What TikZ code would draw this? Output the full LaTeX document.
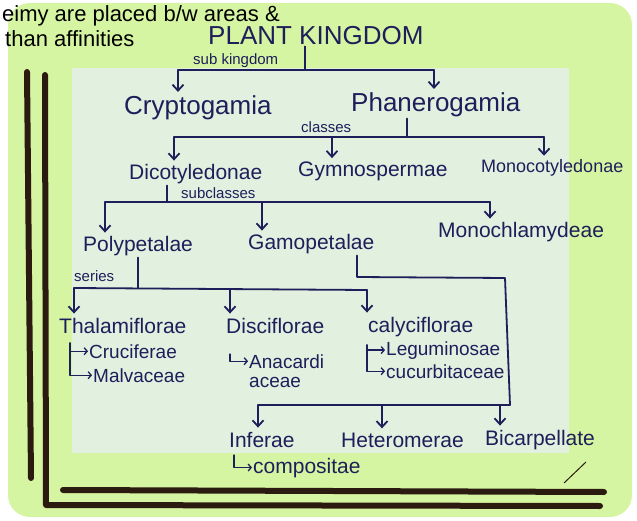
\documentclass[tikz,border=0pt]{standalone}
\usepackage{fontspec}
\setmainfont{Liberation Sans}
\usetikzlibrary{arrows.meta, positioning}
\definecolor{ink}{HTML}{1E1E5A}
\definecolor{paper}{HTML}{D6F5A2}
\definecolor{pale}{HTML}{E1F0DF}
\definecolor{marker}{HTML}{2A1A10}
\begin{document}
\begin{tikzpicture}[x=1pt,y=-1pt]

\tikzset{big/.style = {font=\fontsize{26}{28}\selectfont, text=ink, inner sep=1pt, anchor=base west}}
\tikzset{mid/.style = {font=\fontsize{21}{23}\selectfont, text=ink, inner sep=1pt, anchor=base west}}
\tikzset{small/.style = {font=\fontsize{19}{21}\selectfont, text=ink, inner sep=1pt, anchor=base west}}
\tikzset{tag/.style = {font=\fontsize{15}{16}\selectfont, text=ink, inner sep=1pt, anchor=base west}}
\tikzset{scrawl/.style = {font=\fontsize{22}{24}\selectfont, text=black, inner sep=0pt, anchor=base west}}
\tikzset{link/.style = {draw=ink, line width=1.8pt, line cap=round, line join=round}}
\tikzset{tip/.style = {-{Straight Barb[length=6pt,width=11pt]}, shorten >=3pt}}
\tikzset{sub/.style = {link, line width=1.3pt, -{Straight Barb[length=3pt,width=7pt]}}}
\tikzset{pen/.style = {draw=marker, line width=6pt, line cap=round, line join=round}}

% page
\useasboundingbox (0,0) rectangle (637,521);
\clip (0,0) rectangle (637,521);
\fill[white] (0,0) rectangle (637,521);
\fill[paper, rounded corners=22pt] (8,3) rectangle (632,517);
\fill[pale] (72,68) rectangle (569,453);
\draw[pen] (27,72) -- (31,478);
\draw[pen] (45,75) -- (46,505) -- (600,506);
\draw[pen] (63,490) -- (604,492);
\draw[marker, line width=1pt] (564,483) -- (586,462);
\node[scrawl] (note1) at (2,22) {eimy are placed b/w areas \&};
\node[scrawl] (note2) at (5,47) {than affinities};

% vertices
\node[big] (title) at (207,45) {PLANT KINGDOM};
\node[big] (crypt) at (123,115) {Cryptogamia};
\node[big] (phan) at (350,112) {Phanerogamia};
\node[mid] (dicot) at (128,180) {Dicotyledonae};
\node[mid] (gymno) at (297,177) {Gymnospermae};
\node[mid, font=\fontsize{18}{20}\selectfont] (mono) at (480,173) {Monocotyledonae};
\node[mid] (poly) at (82,252) {Polypetalae};
\node[mid] (gamo) at (247,250) {Gamopetalae};
\node[mid] (monoch) at (437,238) {Monochlamydeae};
\node[mid] (thal) at (58,333) {Thalamiflorae};
\node[mid] (disc) at (225,333) {Disciflorae};
\node[mid] (caly) at (367,332) {calyciflorae};
\node[small] (cruc) at (88,358) {Cruciferae};
\node[small] (malv) at (92,382) {Malvaceae};
\node[small] (anac) at (248,368) {Anacardi};
\node[small] (anac2) at (248,387) {aceae};
\node[small] (legu) at (385,355) {Leguminosae};
\node[small] (cucu) at (385,378) {cucurbitaceae};
\node[mid] (infer) at (228,447) {Inferae};
\node[mid] (comp) at (252,473) {compositae};
\node[mid] (hetero) at (340,447) {Heteromerae};
\node[mid] (bicarp) at (484,445) {Bicarpellate};

% labels
\node[tag] (skl) at (192,65) {sub kingdom};
\node[tag] (cls) at (300,133) {classes};
\node[tag] (scl) at (180,199) {subclasses};
\node[tag] (ser) at (73,282) {series};

% bracket points
\coordinate (k1) at (305,70);
\coordinate (kl) at (178,70);
\coordinate (kr) at (434,70);
\coordinate (c1) at (407,137);
\coordinate (cl) at (174,137);
\coordinate (cr) at (544,137);
\coordinate (s1) at (167,202);
\coordinate (sl) at (105,202);
\coordinate (sr) at (490,202);
\coordinate (r1) at (138,288);
\coordinate (rl) at (74,288);
\coordinate (rr) at (367,290);
\coordinate (g1) at (357,277);
\coordinate (g2) at (505,278);
\coordinate (g3) at (510,405);
\coordinate (gl) at (258,405);
\coordinate (t1) at (70,343);
\coordinate (t2) at (230,354);
\coordinate (t3) at (367,345);
\coordinate (t4) at (234,455);

%edges
\draw[link] (title.south -| k1) -- (k1);
\draw[link] (kl) -- (kr);
\draw[link, tip] (kl) -- (crypt.north -| kl);
\draw[link, tip] (kr) -- (phan.north -| kr);

\draw[link] (phan.south -| c1) -- (c1);
\draw[link] (cl) -- (cr);
\draw[link, tip] (cl) -- (dicot.north -| cl);
\draw[link, tip] (332,137) -- (gymno.north -| 332,0);
\draw[link, tip] (cr) -- (mono.north -| cr);

\draw[link] (dicot.south -| s1) -- (s1);
\draw[link] (sl) -- (sr);
\draw[link, tip] (sl) -- (poly.north -| sl);
\draw[link, tip] (262,202) -- (gamo.north -| 262,0);
\draw[link, tip] (sr) -- (monoch.north -| sr);

\draw[link] (poly.south -| r1) -- (r1);
\draw[link] (rl) -- (rr);
\draw[link, tip] (rl) -- (thal.north -| rl);
\draw[link, tip] (230,289) -- (disc.north -| 230,0);
\draw[link, tip] (rr) -- (caly.north -| rr);

\draw[link] (gamo.south -| g1) -- (g1) -- (g2) -- (g3) -- (gl);
\draw[link, tip] (gl) -- (infer.north -| gl);
\draw[link, tip] (382,405) -- (hetero.north -| 382,0);
\draw[link, tip] (500,405) -- (bicarp.north -| 500,0);

\draw[sub] (t1) |- (cruc.west);
\draw[sub] (t1) |- (malv.west);
\draw[sub] (t2) |- (anac.west);
\draw[sub] (t3) |- (legu.west);
\draw[sub] (t3) |- (cucu.west);
\draw[sub] (t4) |- (comp.west);
\end{tikzpicture}
\end{document}
